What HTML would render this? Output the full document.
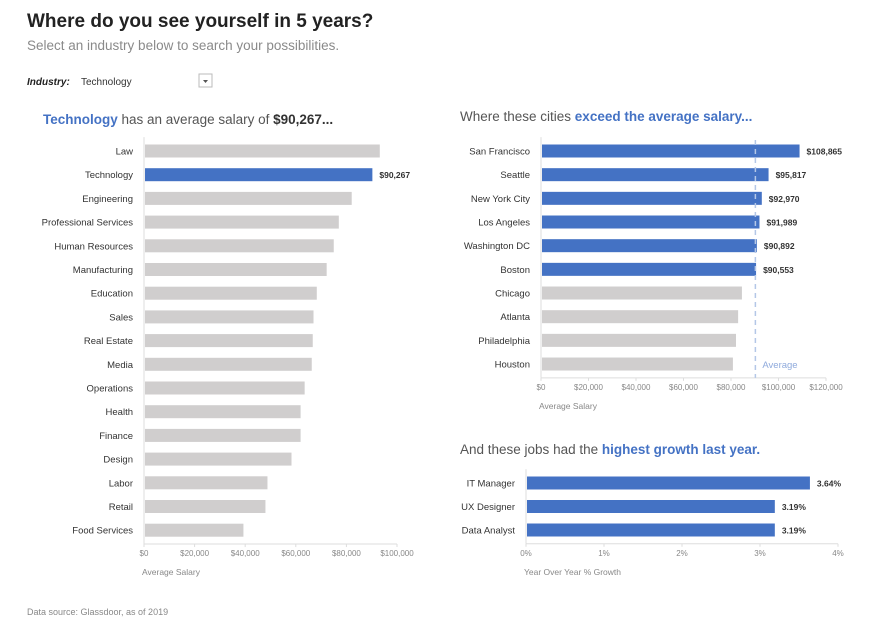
<!DOCTYPE html>
<html><head><meta charset="utf-8"><style>
body{margin:0;background:#fff;width:885px;height:637px;overflow:hidden;font-family:"Liberation Sans",sans-serif}
svg text{font-family:"Liberation Sans",sans-serif}
</style></head><body>
<svg id="s" width="885" height="637">
<text x="27" y="27" font-size="19" font-weight="bold" fill="#222">Where do you see yourself in 5 years?</text>
<text x="27" y="50" font-size="13.5" fill="#8a8a8a">Select an industry below to search your possibilities.</text>
<g>
<text x="27" y="85" font-size="10" font-style="italic" font-weight="bold" fill="#222">Industry:</text>
<text x="81" y="85" font-size="10" fill="#333">Technology</text>
<rect x="199" y="74" width="13" height="13" fill="#fff" stroke="#bbb"/>
<path d="M203 80 L208 80 L205.5 83 Z" fill="#555"/>
</g>
<text x="43" y="124" font-size="13.5" fill="#555"><tspan fill="#4472c4" font-weight="bold">Technology</tspan> has an average salary of <tspan font-weight="bold" fill="#333">$90,267...</tspan></text>
<text x="460" y="121" font-size="13.5" fill="#555">Where these cities <tspan fill="#4472c4" font-weight="bold">exceed the average salary...</tspan></text>
<text x="460" y="454" font-size="13.5" fill="#555">And these jobs had the <tspan fill="#4472c4" font-weight="bold">highest growth last year.</tspan></text>
<text x="27" y="615" font-size="9" fill="#888">Data source: Glassdoor, as of 2019</text>
<g id="g1"></g><g id="g2"></g><g id="g3"></g>
</svg>
<script>
const industries=["Law","Technology","Engineering","Professional Services","Human Resources","Manufacturing","Education","Sales","Real Estate","Media","Operations","Health","Finance","Design","Labor","Retail","Food Services"];
const industrySalaries=[93200,90267,82100,77000,75000,72200,68300,67000,66700,66300,63500,61900,61900,58300,48800,48000,39300];
const industryTicks=[0,20000,40000,60000,80000,100000];
const cities=["San Francisco","Seattle","New York City","Los Angeles","Washington DC","Boston","Chicago","Atlanta","Philadelphia","Houston"];
const citySalaries=[108865,95817,92970,91989,90892,90553,84600,83000,82100,80800];
const cityTicks=[0,20000,40000,60000,80000,100000,120000];
const averageSalary=90267;
const jobs=["IT Manager","UX Designer","Data Analyst"];
const jobGrowth=[3.64,3.19,3.19];
const growthTicks=[0,1,2,3,4];

const NS="http://www.w3.org/2000/svg";
function el(p,t,a,txt){const e=document.createElementNS(NS,t);for(const k in a)e.setAttribute(k,a[k]);if(txt!==undefined)e.textContent=txt;p.appendChild(e);return e;}
const money=v=>"$"+v.toLocaleString("en-US");

function chart(g,o){
  const x=v=>o.x0+(v-o.min)/(o.max-o.min)*(o.x1-o.x0);
  const y=i=>o.y0+i*o.step;
  const bottom=y(o.cats.length-1)+o.step/2+2;
  const ax=el(g,"line",{x1:o.x0,x2:o.x0,y1:y(0)-o.step/2-2,y2:bottom,stroke:"#ddd"});
  
  
  const bx=el(g,"line",{x1:o.x0,x2:o.x1,y1:bottom,y2:bottom,stroke:"#ddd"});
  
  
  o.ticks.forEach(t=>{
    el(g,"line",{x1:x(t),x2:x(t),y1:bottom,y2:bottom+3,stroke:"#ddd"});
    const tl=el(g,"text",{x:x(t),y:bottom+12,"font-size":8,fill:"#888","text-anchor":"middle"},o.tickFmt(t));
    
    
  });
  const at=el(g,"text",{x:o.x0-2,y:bottom+31,"font-size":8.5,fill:"#888"},o.axisTitle);
  
  
  o.cats.forEach((c,i)=>{
    const lab=el(g,"text",{x:o.x0-11,y:y(i)+3.5,"font-size":9.5,fill:"#333","text-anchor":"end"},c);
    
    
    const hi=o.hi(i);
    const r=el(g,"rect",{x:o.x0+1,y:y(i)-6.5,width:x(o.vals[i])-o.x0-1,height:13,fill:hi?"#4472c4":"#d0cece"});
    
    
    if(o.label(i)){
      const vl=el(g,"text",{x:x(o.vals[i])+7,y:y(i)+3.5,"font-size":8.5,fill:"#333","font-weight":"bold"},o.valFmt(o.vals[i]));
      
      
    }
  });
  return {x,y,bottom};
}
chart(document.getElementById("g1"),{name:"industry",cats:industries,vals:industrySalaries,ticks:industryTicks,min:0,max:100000,x0:144,x1:397,y0:151,step:23.7,tickFmt:money,valFmt:money,axisTitle:"Average Salary",hi:i=>industries[i]==="Technology",label:i=>industries[i]==="Technology"});
const c2=chart(document.getElementById("g2"),{name:"city",cats:cities,vals:citySalaries,ticks:cityTicks,min:0,max:120000,x0:541,x1:826,y0:151,step:23.67,tickFmt:money,valFmt:money,axisTitle:"Average Salary",hi:i=>citySalaries[i]>averageSalary,label:i=>citySalaries[i]>averageSalary});
const g2=document.getElementById("g2");
const al=el(g2,"line",{x1:c2.x(averageSalary),x2:c2.x(averageSalary),y1:140,y2:c2.bottom,stroke:"#b4c7e7","stroke-dasharray":"5,4","stroke-width":1.5});


const alt=el(g2,"text",{x:c2.x(averageSalary)+7,y:c2.y(cities.length-1)+4,"font-size":9.5,fill:"#8faadc"},"Average");


chart(document.getElementById("g3"),{name:"job",cats:jobs,vals:jobGrowth,ticks:growthTicks,min:0,max:4,x0:526,x1:838,y0:483,step:23.5,tickFmt:t=>t+"%",valFmt:v=>v.toFixed(2)+"%",axisTitle:"Year Over Year % Growth",hi:()=>true,label:()=>true});
</script>
</body></html>
